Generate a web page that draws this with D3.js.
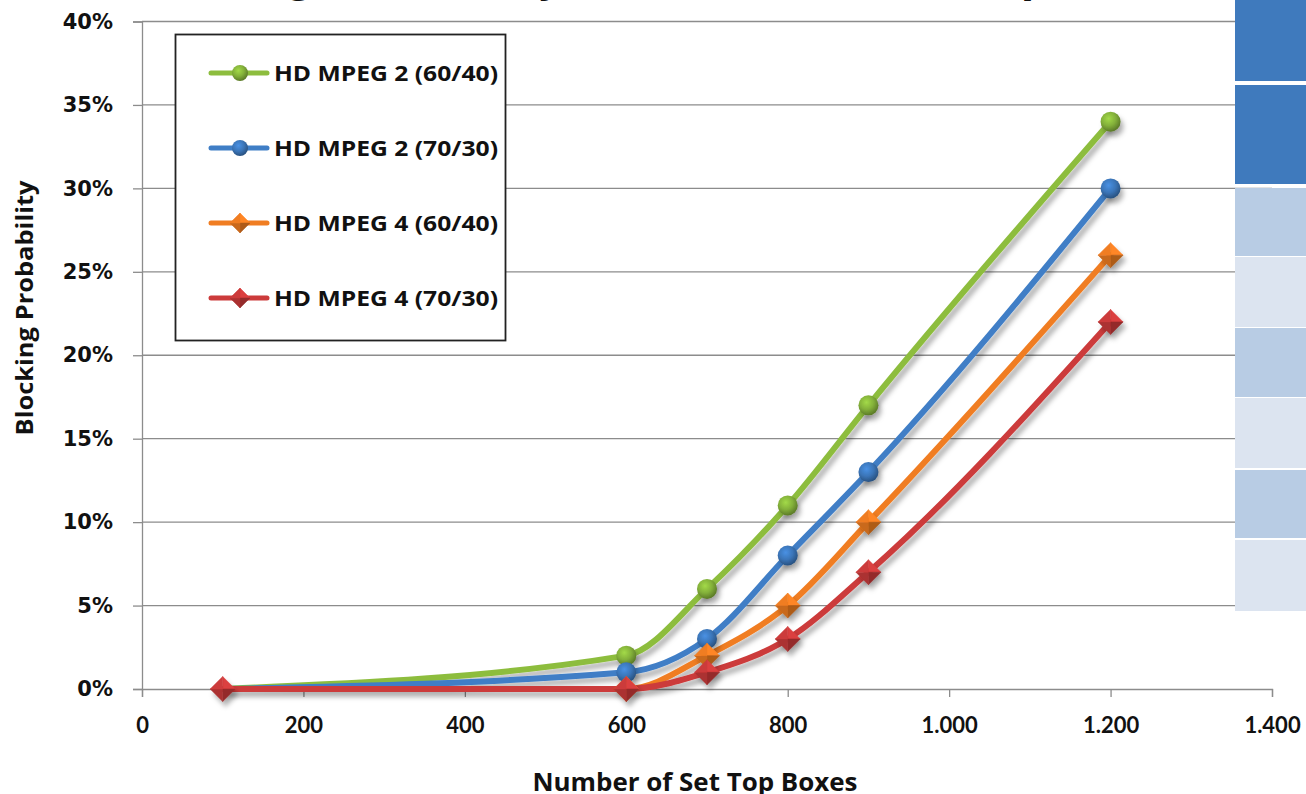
<!DOCTYPE html>
<html>
<head>
<meta charset="utf-8">
<script src="https://cdn.jsdelivr.net/npm/d3@7"></script>
<style>
  html, body { margin: 0; padding: 0; background: #fff; overflow: hidden; }
  svg { display: block; }
</style>
</head>
<body>
<div id="chart"></div>
<script>
// --- data ---
const setTopBoxes = [100, 600, 700, 800, 900, 1200];
const seriesNames = ["HD MPEG 2 (60/40)", "HD MPEG 2 (70/30)", "HD MPEG 4 (60/40)", "HD MPEG 4 (70/30)"];
const mpeg2_6040 = [0, 2, 6, 11, 17, 34];
const mpeg2_7030 = [0, 1, 3, 8, 13, 30];
const mpeg4_6040 = [0, 0, 2, 5, 10, 26];
const mpeg4_7030 = [0, 0, 1, 3, 7, 22];
const seriesColors = ["#8dbd3e", "#3f7ec6", "#f07d22", "#cc3b3b"];
const seriesShapes = ["circle", "circle", "diamond", "diamond"];
const xTicks = [0, 200, 400, 600, 800, 1000, 1200, 1400];
const yTicks = [0, 5, 10, 15, 20, 25, 30, 35, 40];
const panelColors = ["#3f7abd", "#3f7abd", "#b8cce4", "#dce4f0", "#b8cce4", "#dce4f0", "#b8cce4", "#dce4f0"];

const allSeries = [mpeg2_6040, mpeg2_7030, mpeg4_6040, mpeg4_7030];

const W = 1306, H = 794;
const svg = d3.select("#chart").append("svg").attr("width", W).attr("height", H);

const x = d3.scaleLinear().domain([0, 1400]).range([142, 1272]);
const y = d3.scaleLinear().domain([0, 40]).range([689, 21.5]);

const loc = d3.formatLocale({ decimal: ",", thousands: ".", grouping: [3], currency: ["", ""] });
const fmtX = loc.format(",d");

const defs = svg.append("defs");
const shadow = defs.append("filter").attr("id", "shadow")
  .attr("x", "-10%").attr("y", "-10%").attr("width", "130%").attr("height", "140%");
shadow.append("feDropShadow").attr("dx", 3).attr("dy", 5).attr("stdDeviation", 2.5)
  .attr("flood-color", "#000").attr("flood-opacity", 0.3);

seriesColors.forEach((c, i) => {
  const g = defs.append("radialGradient").attr("id", "ball" + i)
    .attr("cx", "40%").attr("cy", "35%").attr("r", "65%");
  g.append("stop").attr("offset", "0%").attr("stop-color", d3.color(c).brighter(0.4));
  g.append("stop").attr("offset", "55%").attr("stop-color", d3.color(c).darker(0.2));
  g.append("stop").attr("offset", "100%").attr("stop-color", d3.color(c).darker(1.2));
});

// title, almost entirely cut off at the top edge
svg.append("text")
  .attr("x", 660).attr("y", -7)
  .attr("text-anchor", "middle")
  .attr("font-family", "DejaVu Sans").attr("font-weight", "bold").attr("font-size", 38)
  .attr("fill", "#111")
  .text("Blocking Probability vs. Number of Set Top Boxes");

// gridlines
svg.append("g").selectAll("line").data(yTicks.filter(d => d > 0)).join("line")
  .attr("x1", x(0)).attr("x2", x(1400))
  .attr("y1", d => y(d)).attr("y2", d => y(d))
  .attr("stroke", "#8c8c8c").attr("stroke-width", 1.3);

// y axis
const yAxis = svg.append("g").attr("transform", `translate(${x(0)},0)`)
  .call(d3.axisLeft(y).tickValues(yTicks).tickSize(9).tickPadding(20).tickFormat(d => d + "%"));
yAxis.select(".domain").attr("stroke", "#8c8c8c").attr("stroke-width", 1.3);
yAxis.selectAll(".tick line").attr("stroke", "#8c8c8c").attr("stroke-width", 1.3);
yAxis.selectAll(".tick text")
  .attr("font-family", "DejaVu Sans").attr("font-weight", "bold").attr("font-size", 21)
  .attr("fill", "#111");

// x axis
const xAxis = svg.append("g").attr("transform", `translate(0,${y(0)})`)
  .call(d3.axisBottom(x).tickValues(xTicks).tickSize(8).tickPadding(20).tickFormat(fmtX));
xAxis.select(".domain").attr("stroke", "#8c8c8c").attr("stroke-width", 1.3);
xAxis.selectAll(".tick line").attr("stroke", "#8c8c8c").attr("stroke-width", 1.3);
xAxis.selectAll(".tick text")
  .attr("font-family", "Lato").attr("font-weight", "bold").attr("font-size", 22)
  .attr("fill", "#111");

// decorative panel at the right edge
const panelX = 1235;
const rowTops = [0, 85, 188, 257, 328, 398, 470, 540];
const rowBottoms = [81, 184, 256, 327, 397, 468, 538, 611];
svg.append("g").selectAll("rect").data(panelColors).join("rect")
  .attr("x", panelX).attr("width", W - panelX)
  .attr("y", (d, i) => rowTops[i]).attr("height", (d, i) => rowBottoms[i] - rowTops[i])
  .attr("fill", d => d);

// lines
const line = d3.line()
  .x((d, i) => x(setTopBoxes[i]))
  .y(d => y(d))
  .curve(d3.curveMonotoneX);

const lines = svg.append("g").attr("filter", "url(#shadow)");
allSeries.forEach((s, i) => {
  lines.append("path").datum(s)
    .attr("d", line)
    .attr("fill", "none")
    .attr("stroke", seriesColors[i])
    .attr("stroke-width", 6)
    .attr("stroke-linejoin", "round")
    .attr("stroke-linecap", "round");
});

function drawMarker(g, cx, cy, i, r) {
  const c = seriesColors[i];
  if (seriesShapes[i] === "circle") {
    g.append("circle").attr("cx", cx).attr("cy", cy).attr("r", r)
      .attr("fill", `url(#ball${i})`);
  } else {
    const d = r * 1.25;
    const faces = [
      [[cx, cy - d], [cx + d, cy], [cx, cy], d3.color(c).brighter(0.2)],
      [[cx + d, cy], [cx, cy + d], [cx, cy], d3.color(c).darker(0.9)],
      [[cx, cy + d], [cx - d, cy], [cx, cy], d3.color(c).darker(0.5)],
      [[cx - d, cy], [cx, cy - d], [cx, cy], d3.color(c)]
    ];
    faces.forEach(f => {
      g.append("path")
        .attr("d", d3.line()([f[0], f[1], f[2]]) + "Z")
        .attr("fill", f[3])
        .attr("stroke", f[3]).attr("stroke-width", 0.5);
    });
  }
}

const markers = svg.append("g").attr("filter", "url(#shadow)");
allSeries.forEach((s, i) => {
  s.forEach((v, j) => {
    if (j === 0 && i < 3) return; // only the red marker shows at 100
    drawMarker(markers, x(setTopBoxes[j]), y(v), i, 10);
  });
});

// legend
const legend = svg.append("g");
legend.append("rect")
  .attr("x", 175.5).attr("y", 34.5).attr("width", 330).attr("height", 306)
  .attr("fill", "#fff").attr("stroke", "#222").attr("stroke-width", 1.8);
const legendY = [73, 148, 223, 298];
seriesNames.forEach((name, i) => {
  const ly = legendY[i];
  legend.append("line")
    .attr("x1", 211).attr("x2", 267).attr("y1", ly).attr("y2", ly)
    .attr("stroke", seriesColors[i]).attr("stroke-width", 5).attr("stroke-linecap", "round");
  drawMarker(legend, 240, ly, i, 8);
  legend.append("text")
    .attr("x", 274).attr("y", ly + 8)
    .attr("font-family", "Open Sans").attr("font-weight", "bold").attr("font-size", 22)
    .attr("textLength", 224).attr("lengthAdjust", "spacingAndGlyphs")
    .attr("fill", "#111")
    .text(name);
});

// axis titles
svg.append("text")
  .attr("transform", `translate(33,308) rotate(-90)`)
  .attr("text-anchor", "middle")
  .attr("font-family", "Open Sans").attr("font-weight", "bold").attr("font-size", 23)
  .attr("textLength", 255).attr("lengthAdjust", "spacingAndGlyphs")
  .attr("fill", "#111")
  .text("Blocking Probability");

svg.append("text")
  .attr("x", 695).attr("y", 791)
  .attr("text-anchor", "middle")
  .attr("font-family", "Open Sans").attr("font-weight", "bold").attr("font-size", 25)
  .attr("textLength", 325).attr("lengthAdjust", "spacingAndGlyphs")
  .attr("fill", "#111")
  .text("Number of Set Top Boxes");
</script>
</body>
</html>
